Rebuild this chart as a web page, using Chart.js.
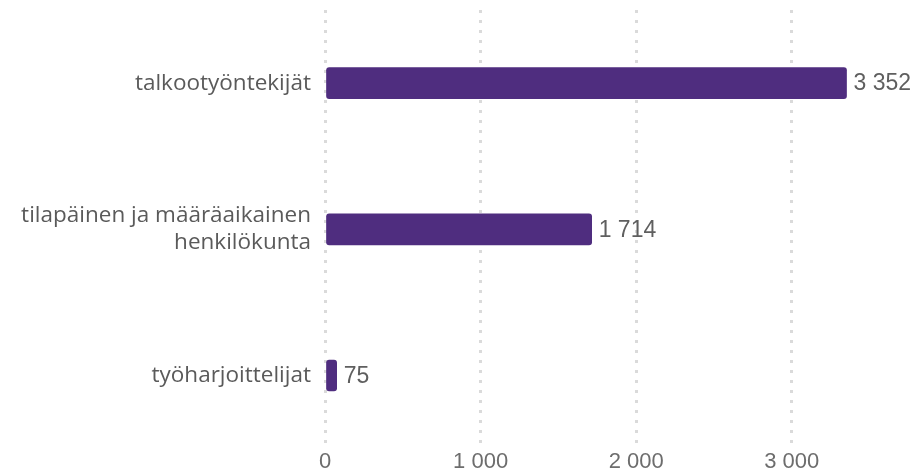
<!DOCTYPE html>
<html>
<head>
<meta charset="utf-8">
<script src="https://cdn.jsdelivr.net/npm/chart.js@4/dist/chart.umd.min.js"></script>
<style>
  html, body { margin: 0; padding: 0; background: #fff; }
  #wrap { width: 920px; height: 475px; }
</style>
</head>
<body>
<div id="wrap"><canvas id="c"></canvas></div>
<script>
var categories = [
  'talkootyöntekijät',
  ['tilapäinen ja määräaikainen', 'henkilökunta'],
  'työharjoittelijat'
];
var values = [3352, 1714, 75];
var tickValues = [0, 1000, 2000, 3000];

function fmt(v) {
  return String(v).replace(/\B(?=(\d{3})+(?!\d))/g, ' ');
}

var valueLabels = {
  id: 'valueLabels',
  afterDatasetsDraw: function (chart) {
    var ctx = chart.ctx;
    var meta = chart.getDatasetMeta(0);
    ctx.save();
    ctx.font = "23px 'Liberation Sans', sans-serif";
    ctx.fillStyle = '#5f5f5f';
    ctx.textBaseline = 'middle';
    ctx.textAlign = 'left';
    meta.data.forEach(function (bar, i) {
      ctx.fillText(fmt(values[i]), bar.x + 7, bar.y + 1);
    });
    ctx.restore();
  }
};

new Chart(document.getElementById('c'), {
  type: 'bar',
  data: {
    labels: categories,
    datasets: [{
      data: values,
      backgroundColor: '#4f2d7f',
      borderRadius: 3,
      borderSkipped: false,
      barThickness: 31
    }]
  },
  plugins: [valueLabels],
  options: {
    indexAxis: 'y',
    responsive: true,
    maintainAspectRatio: false,
    animation: false,
    layout: { padding: { top: 10, right: 10, left: 0, bottom: 0 } },
    plugins: { legend: { display: false }, tooltip: { enabled: false } },
    scales: {
      x: {
        min: 0,
        max: 3760,
        afterBuildTicks: function (axis) {
          axis.ticks = tickValues.map(function (v) { return { value: v }; });
        },
        grid: { color: '#dadada', lineWidth: 3, drawTicks: false },
        border: { display: false, dash: [3, 7] },
        ticks: {
          color: '#6d6d6d',
          padding: 0,
          font: { family: "'Liberation Sans', sans-serif", size: 22 },
          callback: function (v) { return fmt(v); }
        }
      },
      y: {
        afterFit: function (axis) {
          axis.width = 325;
          axis.paddingTop = 0;
          axis.paddingBottom = 0;
        },
        grid: { display: false, drawTicks: false },
        border: { display: false },
        ticks: {
          color: '#5a5a5a',
          padding: 14,
          font: { family: "'Open Sans', sans-serif", size: 22.5 }
        }
      }
    }
  }
});
</script>
</body>
</html>
